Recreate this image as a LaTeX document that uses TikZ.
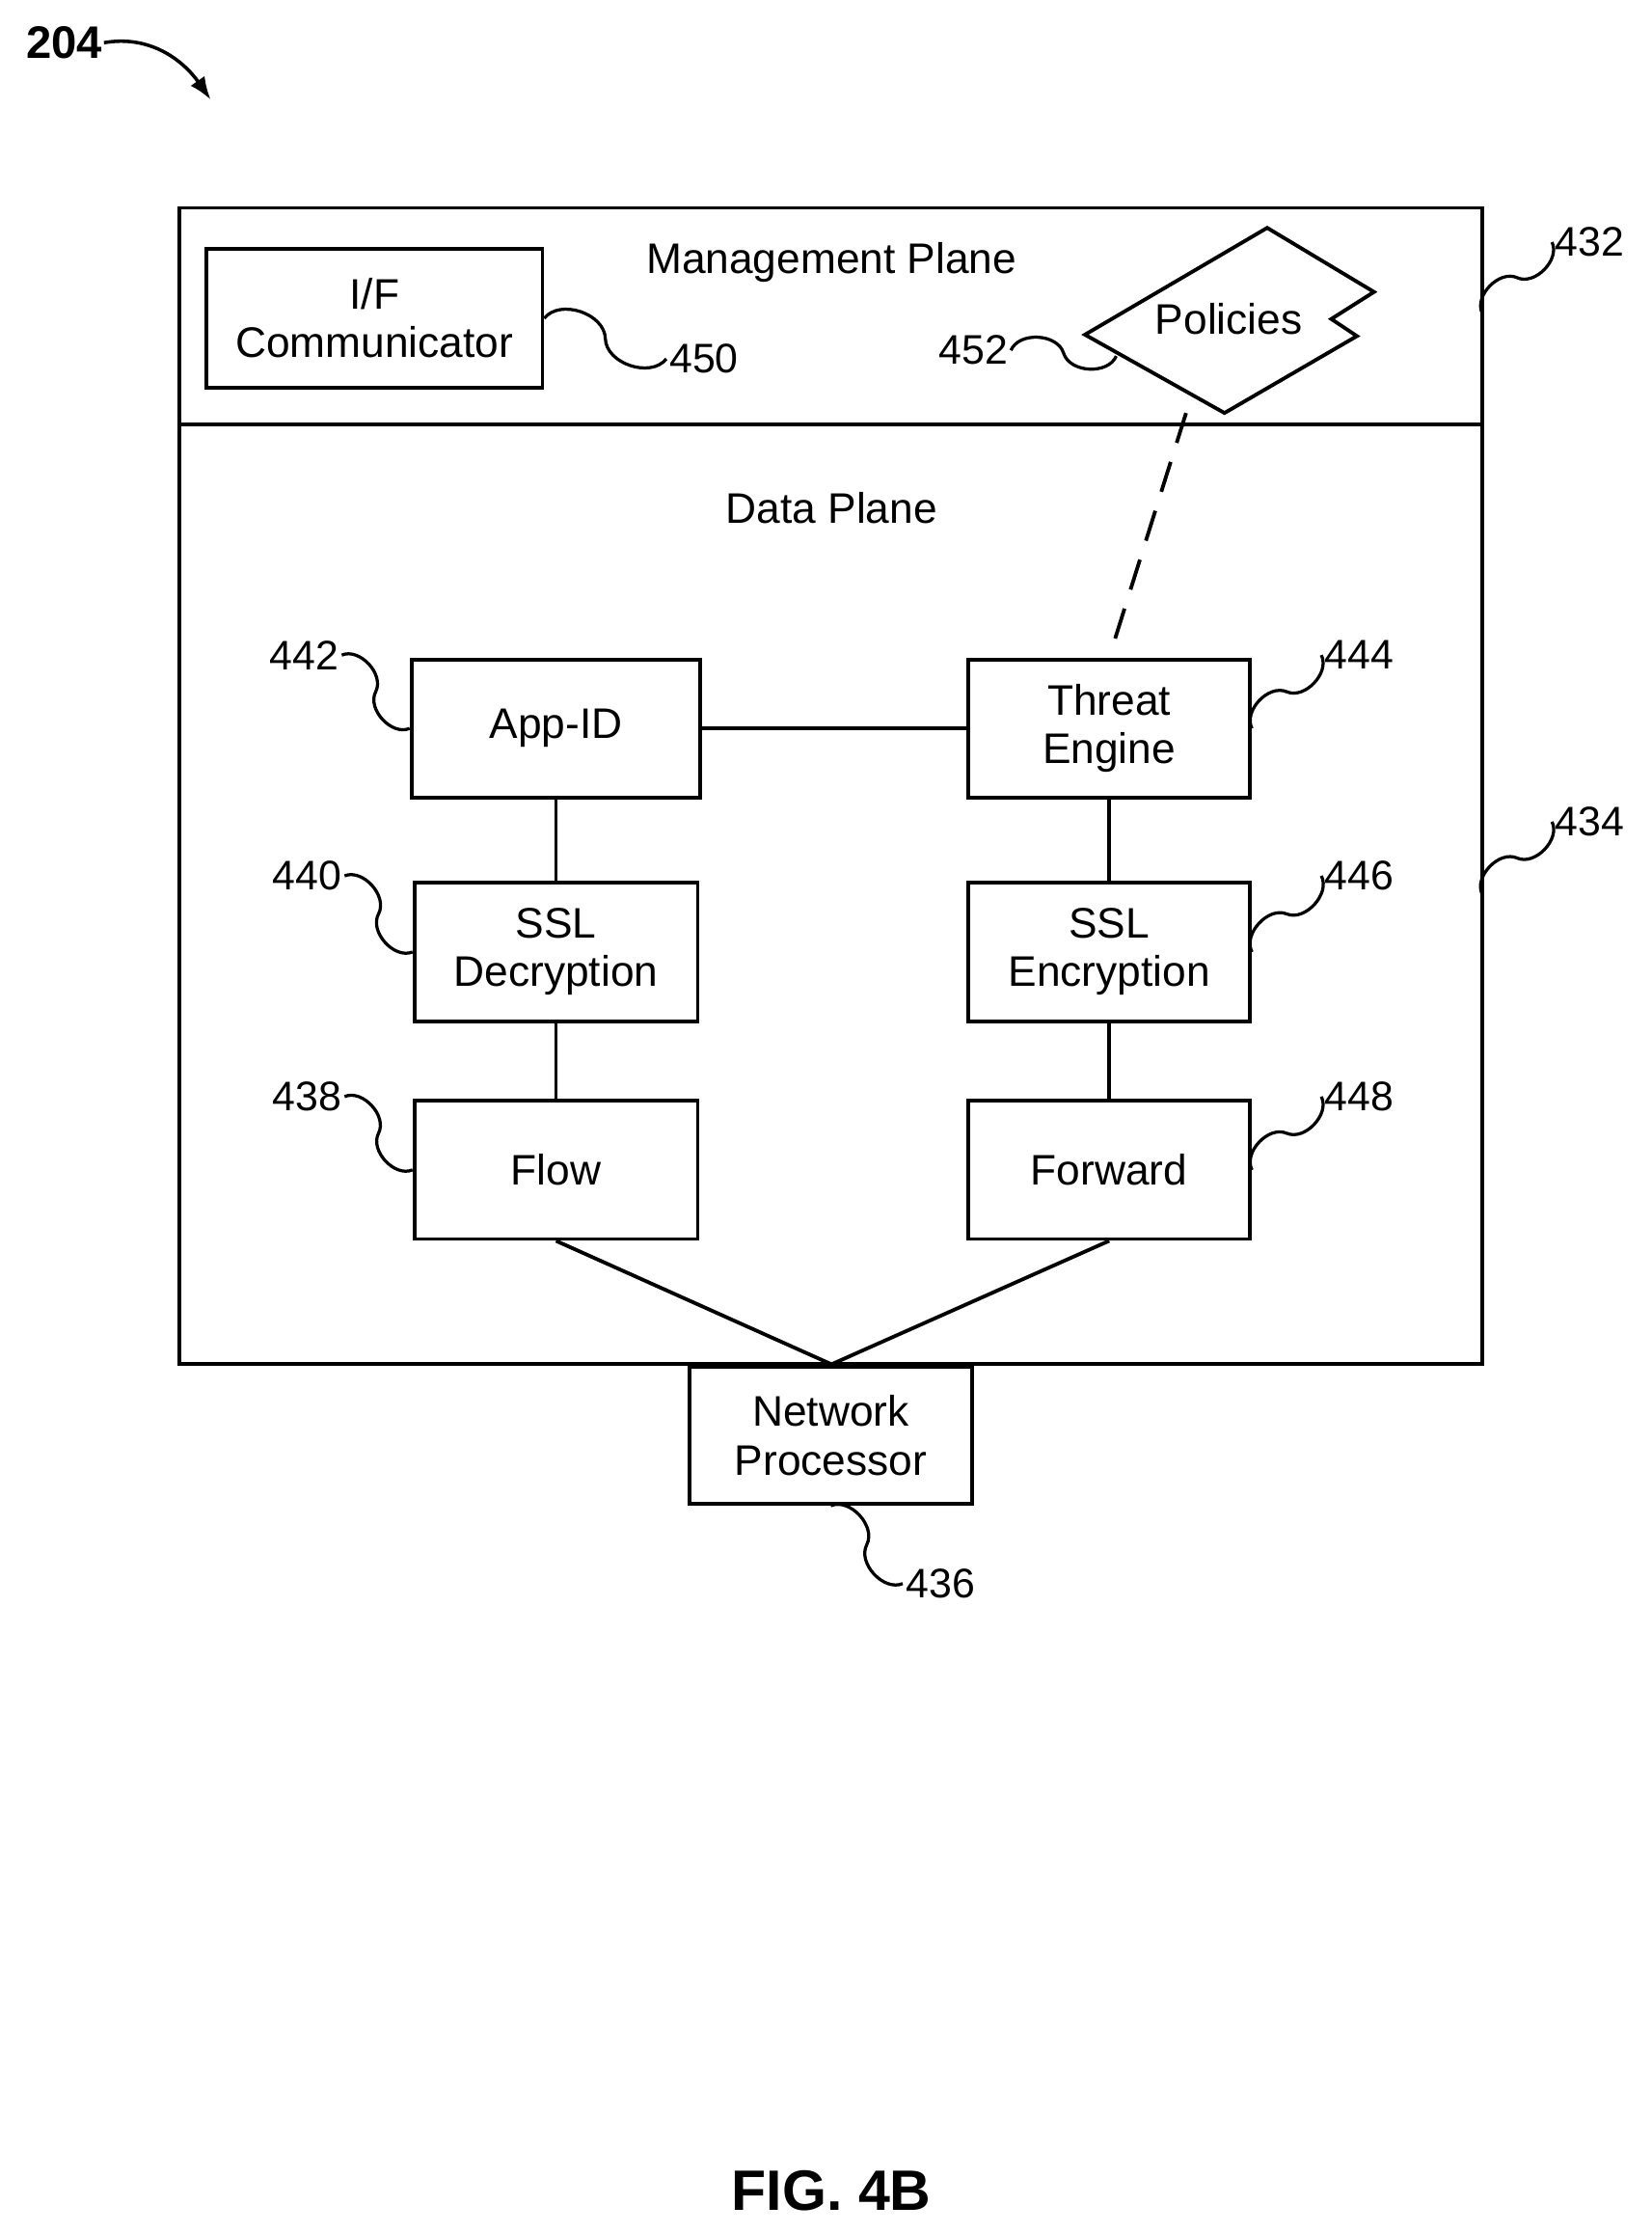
\documentclass[tikz,border=0pt]{standalone}
\usepackage{fontspec}
\setmainfont{Liberation Sans}
\usetikzlibrary{calc,arrows.meta}
\begin{document}
\begin{tikzpicture}[x=1pt,y=-1pt,line width=2.6pt,
  box/.style={draw,align=center,inner sep=0pt,font=\fontsize{30}{38}\selectfont},
  txt/.style={inner sep=0pt,font=\fontsize{30}{38}\selectfont},
  num/.style={inner sep=1pt,font=\fontsize{29}{34}\selectfont},
  lead/.style={line width=2.2pt}]
\useasboundingbox (0,0) rectangle (1160,1568);
\newcommand{\squig}[2]{\draw[lead] (#1) to[bend left=70] ($(#1)!0.5!(#2)$) to[bend right=70] (#2);}
% outer boxes
\draw (126,146) rectangle (1041,958);
\draw (126,298) -- (1041,298);
\coordinate (mp) at (1041,220);
\coordinate (dp) at (1041,628);
\node[txt] at (584,184) {Management Plane};
\node[txt] at (584,357) {Data Plane};
\node[box,minimum width=236pt,minimum height=97pt] (if) at (263,223.5) {I/F\\[-4pt]Communicator};
% policies
\draw[fill=white] (762,235) -- (890,160) -- (965,205) -- (935,224) -- (953,236) -- (860,290) -- cycle;
\node[txt] (pol) at (863,224) {Policies};
\coordinate (polb) at (833,290);
\coordinate (pola) at (784,250);
% data plane boxes
\node[box,minimum width=203pt,minimum height=97pt] (app) at (390.5,511.5) {App-ID};
\node[box,minimum width=198pt,minimum height=97pt] (thr) at (779,511.5) {Threat\\[-4pt]Engine};
\node[box,minimum width=199pt,minimum height=97pt] (dec) at (390.5,668.5) {SSL\\[-4pt]Decryption};
\node[box,minimum width=198pt,minimum height=97pt] (enc) at (779,668.5) {SSL\\[-4pt]Encryption};
\node[box,minimum width=199pt,minimum height=97pt] (flow) at (390.5,821.5) {Flow};
\node[box,minimum width=198pt,minimum height=97pt] (fwd) at (779,821.5) {Forward};
\node[box,minimum width=199pt,minimum height=96pt] (np) at (583.5,1008) {Network\\[-4pt]Processor};
\coordinate (join) at (584,958);
\draw (app) -- (thr);
\draw (app) -- (dec);
\draw (dec) -- (flow);
\draw (thr) -- (enc);
\draw (enc) -- (fwd);
\draw (flow.south) -- (join) -- (fwd.south);
\draw[dashed,dash pattern=on 22pt off 14pt] (polb) -- (thr.north);
% labels
\node[num,anchor=west] (n432) at (1090,170) {432};
\node[num,anchor=west] (n434) at (1090,577) {434};
\node[num,anchor=west] (n450) at (468,252) {450};
\node[num,anchor=east] (n452) at (710,246) {452};
\node[num,anchor=east] (n442) at (240,460) {442};
\node[num,anchor=east] (n440) at (242,615) {440};
\node[num,anchor=east] (n438) at (242,770) {438};
\node[num,anchor=west] (n444) at (928,460) {444};
\node[num,anchor=west] (n446) at (928,615) {446};
\node[num,anchor=west] (n448) at (928,770) {448};
\node[num,anchor=west] (n436) at (634,1112) {436};
\squig{mp}{n432.west}
\squig{dp}{n434.west}
\squig{if.east}{n450.west}
\squig{n452.east}{pola}
\squig{n442.east}{app.west}
\squig{n440.east}{dec.west}
\squig{n438.east}{flow.west}
\squig{thr.east}{n444.west}
\squig{enc.east}{n446.west}
\squig{fwd.east}{n448.west}
\squig{np.south}{n436.west}
% figure ids
\node[inner sep=0pt,font=\bfseries\fontsize{32}{36}\selectfont] (id) at (45,30) {204};
\coordinate (ida) at (148,70);
\draw[-{Latex[length=16pt,width=12pt]},line width=2.4pt] (id.east) to[out=10,in=125] (ida);
\node[inner sep=0pt,font=\bfseries\fontsize{40}{46}\selectfont] (fig) at (584,1538) {FIG. 4B};
\end{tikzpicture}
\end{document}
